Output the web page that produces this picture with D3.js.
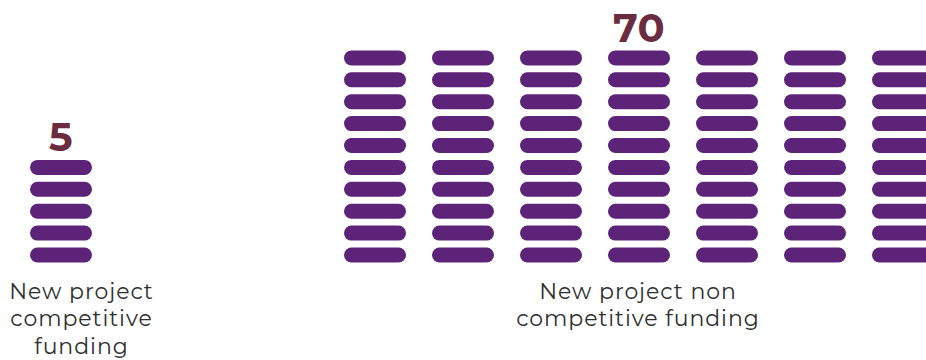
<!DOCTYPE html>
<html>
<head>
<meta charset="utf-8">
<script src="https://cdn.jsdelivr.net/npm/d3@7"></script>
<style>
  html, body { margin: 0; padding: 0; background: #ffffff; }
  svg { display: block; }
</style>
</head>
<body>
<svg id="chart" width="926" height="360"></svg>
<script>
// ---- data ----
const categories = ["New project competitive funding", "New project non competitive funding"];
const values = [5, 70];
const labelLines = [
  ["New project", "competitive", "funding"],
  ["New project non", "competitive funding"]
];
const rowsPerColumn = 10;

// ---- layout ----
const W = 926, H = 360;
const pillW = 62, pillH = 15;
const groupStart = [30, 344];     // left edge of first column of each group
const labelCenter = [81.5, 638];  // centre of the category label
const colStep = 88;

const svg = d3.select("#chart");

// row position scale (row 0 at bottom)
const y = d3.scaleLinear().domain([0, rowsPerColumn - 1]).range([247.5, 50.4]);

const purple = "#5c2379";
const maroon = "#6b2c40";
const textCol = "#2e2e2e";

categories.forEach((cat, g) => {
  const n = values[g];
  const nCols = Math.ceil(n / rowsPerColumn);
  const x = d3.scaleLinear().domain([0, 1]).range([groupStart[g], groupStart[g] + colStep]);
  const cells = d3.range(n).map(i => ({ col: Math.floor(i / rowsPerColumn), row: i % rowsPerColumn }));

  const grp = svg.append("g").attr("class", "group");
  grp.selectAll("rect.pill")
    .data(cells)
    .join("rect")
    .attr("class", "pill")
    .attr("x", d => x(d.col))
    .attr("y", d => y(d.row))
    .attr("width", pillW)
    .attr("height", pillH)
    .attr("rx", pillH / 2)
    .attr("ry", pillH / 2)
    .attr("fill", purple);

  // value label above middle column
  const midCol = Math.floor((nCols - 1) / 2);
  const topRow = Math.min(n, rowsPerColumn) - 1;
  grp.append("text")
    .attr("x", x(midCol) + pillW / 2)
    .attr("y", y(topRow) - 8.5)
    .attr("text-anchor", "middle")
    .attr("font-family", "Montserrat, 'Open Sans', sans-serif")
    .attr("font-weight", 700)
    .attr("font-size", 40)
    .attr("letter-spacing", 0.5)
    .attr("fill", maroon)
    .text(n);

  // category label
  const t = grp.append("text")
    .attr("text-anchor", "middle")
    .attr("font-family", "Montserrat, 'Open Sans', sans-serif")
    .attr("font-size", 22)
    .attr("letter-spacing", 0.95)
    .attr("fill", textCol);
  labelLines[g].forEach((line, i) => {
    t.append("tspan")
      .attr("x", labelCenter[g])
      .attr("y", 298.5 + i * 27.5)
      .text(line);
  });
});
</script>
</body>
</html>
